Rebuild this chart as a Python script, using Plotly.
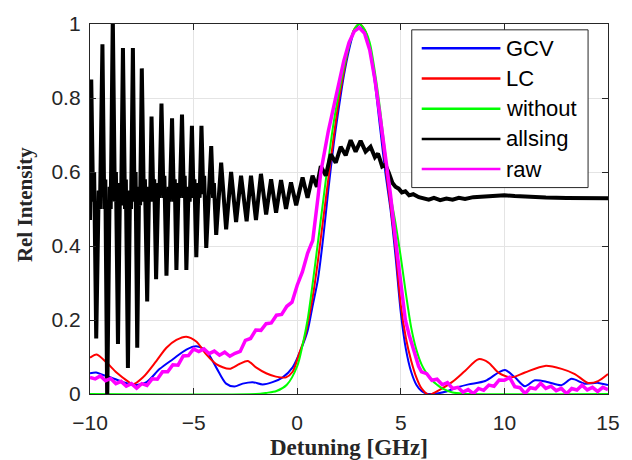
import plotly.graph_objects as go

# ---------------- data ----------------
gcv_x = [-10, -9.7, -9.4, -9.0, -8.4, -7.75, -7.27, -6.63, -6.0, -5.35, -4.87, -4.39, -3.91, -3.43,
         -3.03, -2.63, -2.15, -1.67, -1.19, -0.7, -0.22, 0.25, 0.5, 0.75, 1.0, 1.25, 1.5, 1.75, 2.0,
         2.25, 2.5, 2.75, 3.0, 3.25, 3.5, 3.75, 4.0, 4.25, 4.5, 4.75, 5.0, 5.25, 5.5, 5.75, 6.0, 6.25,
         6.5, 7.15, 7.79, 8.27, 9.07, 9.71, 10.03, 10.51, 10.99, 11.47, 12.12, 12.76, 13.24, 13.88,
         14.52, 15]
gcv_y = [0.056, 0.058, 0.052, 0.045, 0.032, 0.024, 0.032, 0.068, 0.094, 0.120, 0.129, 0.116, 0.072, 0.028,
         0.020, 0.028, 0.032, 0.026, 0.032, 0.045, 0.072, 0.13, 0.17, 0.24, 0.31, 0.42, 0.55, 0.67, 0.77,
         0.86, 0.93, 0.98, 1.0, 0.98, 0.93, 0.84, 0.72, 0.6, 0.5, 0.37, 0.22, 0.12, 0.06, 0.025, 0.008, 0.001,
         0.0, 0.006, 0.019, 0.026, 0.035, 0.058, 0.065, 0.045, 0.021, 0.037, 0.032, 0.024, 0.041, 0.028,
         0.030, 0.024]

lc_x = [-10, -9.68, -9.2, -8.72, -8.24, -7.92, -7.44, -6.8, -6.31, -5.83, -5.35, -4.87, -4.39, -3.91,
        -3.27, -2.79, -2.39, -1.99, -1.5, -1.03, -0.54, -0.22, 0.1, 0.35, 0.58, 0.8, 1.0, 1.25, 1.5, 1.75,
        2.0, 2.25, 2.5, 2.75, 3.0, 3.25, 3.5, 3.75, 4.0, 4.25, 4.5, 4.75, 5.0, 5.25, 5.5, 5.75, 6.0, 6.35,
        6.83, 7.47, 8.11, 8.75, 9.23, 9.71, 10.35, 10.99, 11.96, 12.76, 13.4, 14.04, 14.52, 15]
lc_y = [0.098, 0.107, 0.085, 0.058, 0.037, 0.026, 0.045, 0.089, 0.125, 0.146, 0.155, 0.142, 0.107, 0.081,
        0.068, 0.081, 0.089, 0.072, 0.056, 0.047, 0.045, 0.06, 0.11, 0.15, 0.21, 0.28, 0.36, 0.47, 0.58, 0.69,
        0.79, 0.87, 0.94, 0.985, 1.0, 0.985, 0.94, 0.85, 0.74, 0.62, 0.51, 0.39, 0.24, 0.15, 0.09, 0.045, 0.015,
        -0.002, 0.01, 0.032, 0.063, 0.094, 0.085, 0.058, 0.045, 0.058, 0.076, 0.068, 0.054, 0.030, 0.035, 0.054]

without_x = [-10, -2, -1.5, -1, -0.5, 0, 0.25, 0.5, 0.75, 1.0, 1.25, 1.5, 1.75, 2.0, 2.25, 2.5, 2.75,
             3.0, 3.25, 3.5, 3.75, 4.0, 4.25, 4.5, 4.75, 5.0, 5.25, 5.5, 5.75, 6.0, 6.25, 6.5, 6.75,
             7.0, 7.5, 8, 15]
without_y = [0, 0, 0.003, 0.008, 0.025, 0.075, 0.13, 0.2, 0.3, 0.41, 0.52, 0.63, 0.73, 0.81, 0.88, 0.94,
             0.985, 1.0, 0.985, 0.95, 0.87, 0.77, 0.65, 0.54, 0.46, 0.37, 0.27, 0.18, 0.12, 0.08, 0.055,
             0.037, 0.025, 0.015, 0.004, 0.001, 0]

allsing_x = [-10, -9.94, -9.85, -9.8, -9.7, -9.58, -9.52, -9.4, -9.31, -9.26, -9.17, -9.05, -9.0,
             -8.9, -8.8, -8.75, -8.65, -8.55, -8.5, -8.41, -8.31, -8.27, -8.17, -8.07, -8.02,
             -7.93, -7.85, -7.8, -7.72, -7.63, -7.58, -7.5, -7.4, -7.35, -7.24, -7.15, -7.1,
             -7.03, -6.94, -6.9, -6.81, -6.7, -6.65, -6.55, -6.45, -6.41, -6.31, -6.2, -6.15,
             -6.04, -5.95, -5.91, -5.83, -5.72, -5.67, -5.56, -5.47, -5.43, -5.35, -5.24, -5.19,
             -5.08, -5.0, -4.96, -4.87, -4.76, -4.71, -4.62, -4.53, -4.49, -4.39,
             -4.15, -4.06, -4.02, -3.91, -3.67, -3.43, -3.19, -2.95, -2.71, -2.44, -2.23, -1.99,
             -1.75, -1.5, -1.26, -1.02, -0.78, -0.54, -0.3, -0.05, 0.26, 0.5, 0.74, 0.95, 1.14,
             1.38, 1.62, 1.86, 2.1, 2.34, 2.58, 2.82, 3.06, 3.3, 3.54, 3.75, 3.9, 4.1, 4.25, 4.42,
             4.6, 4.74, 4.9, 5.05, 5.22, 5.4, 5.6, 5.87, 6.1, 6.35, 6.6, 6.9, 7.2, 7.5, 7.8, 8.1,
             8.5, 9.0, 9.5, 10.0, 10.5, 11.0, 11.5, 12.0, 13.0, 14.0, 15.0]
allsing_y = [0.47, 0.85, 0.52, 0.60, 0.15, 0.55, 0.50, 0.945, 0.50, 0.58, -0.02, 0.56, 0.50,
             1.02, 0.52, 0.60, 0.135, 0.57, 0.51, 0.935, 0.50, 0.58, 0.07, 0.55, 0.50,
             0.935, 0.52, 0.60, 0.125, 0.56, 0.51, 0.88, 0.52, 0.58, 0.25, 0.56, 0.52,
             0.75, 0.52, 0.58, 0.31, 0.57, 0.53, 0.785, 0.53, 0.59, 0.32, 0.56, 0.52,
             0.745, 0.52, 0.58, 0.335, 0.57, 0.53, 0.755, 0.53, 0.59, 0.335, 0.56, 0.52,
             0.725, 0.53, 0.58, 0.37, 0.57, 0.53, 0.725, 0.54, 0.59, 0.395,
             0.67, 0.53, 0.57, 0.43, 0.625, 0.445, 0.60, 0.465, 0.59, 0.467, 0.59, 0.47,
             0.595, 0.485, 0.58, 0.49, 0.578, 0.50, 0.572, 0.51, 0.585, 0.53, 0.59, 0.56, 0.616,
             0.59, 0.648, 0.625, 0.668, 0.645, 0.686, 0.655, 0.684, 0.655, 0.668, 0.64, 0.65, 0.615, 0.62, 0.598,
             0.57, 0.56, 0.555, 0.545, 0.548, 0.537, 0.54, 0.532, 0.528, 0.525, 0.53, 0.524, 0.528, 0.525, 0.53, 0.527,
             0.532, 0.533, 0.536, 0.537, 0.535, 0.533, 0.532, 0.531, 0.53, 0.53, 0.529]

raw_x = [-10, -9.75, -9.5, -9.25, -9.0, -8.75, -8.5, -8.25, -8.0, -7.75, -7.5, -7.25, -7.0, -6.75,
         -6.5, -6.25, -6.0, -5.75, -5.5, -5.25, -5.0, -4.75, -4.5, -4.25, -4.0, -3.75, -3.5, -3.25,
         -3.0, -2.75, -2.5, -2.25, -2.0, -1.75, -1.5, -1.25, -1.0, -0.75, -0.5, -0.25, 0.0, 0.25,
         0.5, 0.75, 1.0, 1.14, 1.5, 1.75, 2.0, 2.25, 2.5, 2.75, 3.0, 3.25, 3.5, 3.75, 4.0, 4.25,
         4.5, 4.75, 5.0, 5.22, 5.4, 5.54, 5.7, 5.86, 6.0, 6.25, 6.5, 6.75, 7.0, 7.25, 7.5, 7.75,
         8.0, 8.25, 8.5, 8.75, 9.0, 9.25, 9.5, 9.75, 10.0, 10.25, 10.5, 10.75, 11.0, 11.25, 11.5,
         11.75, 12.0, 12.25, 12.5, 12.75, 13.0, 13.25, 13.5, 13.75, 14.0, 14.25, 14.5, 14.75, 15]
raw_y = [0.045, 0.041, 0.049, 0.036, 0.042, 0.028, 0.034, 0.021, 0.028, 0.016, 0.028, 0.023, 0.041, 0.040,
         0.060, 0.060, 0.079, 0.078, 0.103, 0.104, 0.122, 0.115, 0.122, 0.109, 0.116, 0.105, 0.113, 0.102,
         0.110, 0.115, 0.145, 0.150, 0.173, 0.172, 0.190, 0.192, 0.213, 0.215, 0.237, 0.248, 0.294, 0.330,
         0.380, 0.415, 0.53, 0.6, 0.71, 0.775, 0.835, 0.9, 0.95, 0.98, 0.99, 0.975, 0.93, 0.85, 0.75, 0.645,
         0.54, 0.415, 0.3, 0.2, 0.16, 0.133, 0.1, 0.075, 0.06, 0.055, 0.037, 0.040, 0.025, 0.031, 0.015, 0.018,
         0.005, 0.012, 0.001, 0.015, 0.010, 0.024, 0.021, 0.038, 0.037, 0.045, 0.020, 0.017, 0.001, 0.017, 0.014,
         0.029, 0.015, 0.021, 0.009, 0.015, 0.001, 0.015, 0.011, 0.024, 0.011, 0.018, 0.007, 0.018, 0.012]

series_names = ["GCV", "LC", "without", "allsing", "raw"]
series_colors = ["#0000ff", "#ff0000", "#00ff00", "#000000", "#ff00ff"]
series_widths = [2, 2, 2, 4, 3.5]
series_x = [gcv_x, lc_x, without_x, allsing_x, raw_x]
series_y = [gcv_y, lc_y, without_y, allsing_y, raw_y]
series_shape = ["spline", "spline", "spline", "linear", "linear"]

x_ticks = [-10, -5, 0, 5, 10, 15]
y_ticks = [0, 0.2, 0.4, 0.6, 0.8, 1]
y_tick_labels = ["0", "0.2", "0.4", "0.6", "0.8", "1"]
x_label = "Detuning [GHz]"
y_label = "Rel Intensity"

# ---------------- figure ----------------
fig = go.Figure()
for name, col, w, xs, ys, shp in zip(series_names, series_colors, series_widths, series_x, series_y,
                                     series_shape):
    line = dict(color=col, width=w, shape=shp)
    if shp == "spline":
        line["smoothing"] = 0.8
    fig.add_trace(go.Scatter(x=xs, y=ys, mode="lines", name=name, line=line, showlegend=False))

axis_common = dict(showline=True, linecolor="#262626", linewidth=1.3, mirror="ticks",
                   ticks="inside", ticklen=6, tickwidth=1.1, tickcolor="#262626",
                   showgrid=True, gridcolor="#e4e4e4", gridwidth=1, zeroline=False,
                   tickfont=dict(family="Liberation Sans, Arial", size=21, color="#262626"))

fig.update_xaxes(range=[-10, 15], tickvals=x_ticks, ticklabelstandoff=10, **axis_common)
fig.update_yaxes(range=[0, 1], tickvals=y_ticks, ticktext=y_tick_labels, ticklabelstandoff=4,
                 **axis_common)

# axis titles
fig.add_annotation(text="<b>" + x_label + "</b>", xref="paper", yref="paper", x=0.5, y=0,
                   yanchor="middle", yshift=-53, showarrow=False,
                   font=dict(family="Liberation Serif, Times New Roman", size=23, color="#262626"))
fig.add_annotation(text="<b>" + y_label + "</b>", xref="paper", yref="paper", x=0, y=0.5105,
                   xanchor="center", xshift=-65, textangle=-90, showarrow=False,
                   font=dict(family="Liberation Serif, Times New Roman", size=21, color="#262626"))

# manual legend (MATLAB style)
W, H, L, T = 520, 380, 90, 14
def px(xp):
    return (xp - L) / W
def py(yp):
    return (T + H - yp) / H

fig.add_shape(type="rect", xref="paper", yref="paper", x0=px(413), x1=px(590), y0=py(182), y1=py(20),
              line=dict(color="#262626", width=1), fillcolor="white", layer="above")
entry_y = [39, 70, 101, 132, 163]
for name, col, yy in zip(series_names, series_colors, entry_y):
    fig.add_shape(type="line", xref="paper", yref="paper", x0=px(423), x1=px(502), y0=py(yy), y1=py(yy),
                  line=dict(color=col, width=2.5), layer="above")
    fig.add_annotation(text=name, xref="paper", yref="paper", x=px(506), y=py(yy), xanchor="left",
                       yanchor="middle", showarrow=False,
                       font=dict(family="Liberation Sans, Arial", size=22, color="#000000"))

fig.update_layout(width=632, height=460, margin=dict(l=90, r=22, t=14, b=66),
                  plot_bgcolor="white", paper_bgcolor="white", showlegend=False)

fig.write_html("out.html")
